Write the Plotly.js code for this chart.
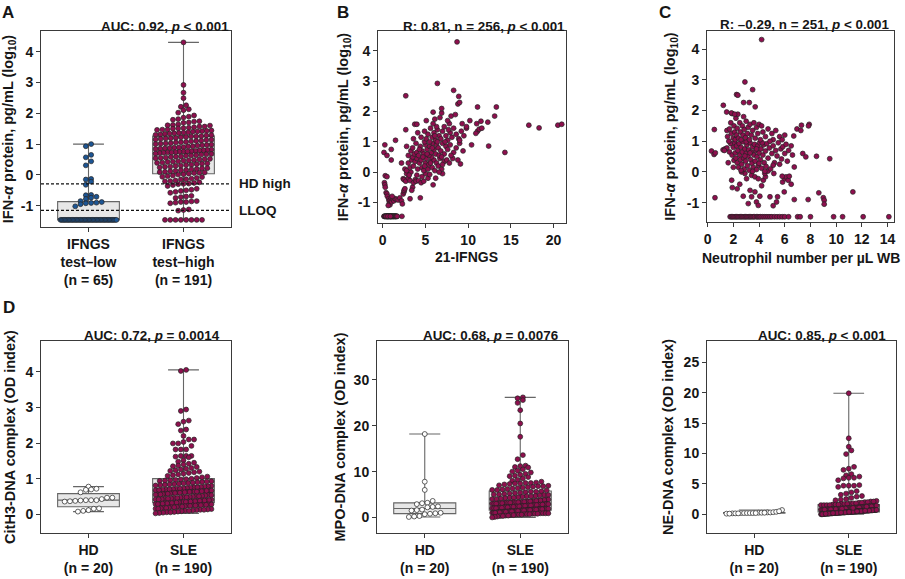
<!DOCTYPE html>
<html><head><meta charset="utf-8">
<script src="https://cdn.plot.ly/plotly-3.0.1.min.js"></script>
<style>html,body{margin:0;padding:0;background:#fff}#chart{width:905px;height:579px}</style>
</head><body><div id="chart"></div>
<script>
// ---------------- DATA ----------------
// Panel A: IFN-alpha protein (log10) by IFNGS test group
const aCatLabels = ['IFNGS<br>test–low<br>(n = 65)', 'IFNGS<br>test–high<br>(n = 191)'];
const aLow = [1.00,0.93,0.65,0.57,0.44,0.31,-0.13,-0.15,-0.22,-0.32,
  -0.65,-0.66,-0.71,-0.74,-0.78,-0.85,-0.88,-0.90,-0.91,-0.92,-0.95,-1.02,
  -1.46,-1.46,-1.46,-1.46,-1.46,-1.46,-1.46,-1.46,-1.46,-1.46,
  -1.46,-1.46,-1.46,-1.46,-1.46,-1.46,-1.46,-1.46,-1.46,-1.46,
  -1.46,-1.46,-1.46,-1.46,-1.46,-1.46,-1.46,-1.46,-1.46,-1.46,
  -1.46,-1.46,-1.46,-1.46,-1.46,-1.46,-1.46,-1.46,-1.46,-1.46,
  -1.46,-1.46,-1.46];
const aHigh = [4.30,2.92,2.67,2.49,2.26,2.21,2.13,2.10,2.02,1.93,1.89,1.86,1.81,
  1.79,1.74,1.73,1.70,1.69,1.64,1.62,1.61,1.60,1.57,1.57,1.55,1.53,1.52,1.51,1.50,1.47,1.47,1.46,1.44,
  1.43,1.42,1.41,1.40,1.38,1.37,1.36,1.35,1.34,1.33,1.31,1.30,1.29,1.28,
  1.26,1.25,1.25,1.23,1.22,1.20,1.19,1.18,1.17,1.15,1.14,1.13,1.11,1.10,1.09,1.07,1.06,1.05,1.03,1.02,
  1.01,1.00,0.98,0.97,0.96,0.95,0.93,0.92,0.90,0.89,0.88,0.87,0.86,0.85,0.84,0.82,0.81,0.80,0.79,0.78,
  0.77,0.76,0.76,0.75,0.74,0.73,0.73,0.72,
  0.71,0.69,0.68,0.67,0.66,0.64,0.63,0.62,0.60,0.59,0.58,0.56,0.55,0.54,0.52,0.51,0.50,0.48,0.47,0.46,
  0.44,0.43,0.42,0.40,0.39,0.37,0.36,0.35,0.33,0.32,0.30,0.29,0.27,0.26,0.24,0.22,0.21,0.19,0.18,0.16,
  0.15,0.13,0.12,0.10,0.09,0.08,0.07,0.06,
  0.04,0.02,0.01,-0.02,-0.04,-0.06,-0.07,-0.10,-0.12,-0.14,-0.15,-0.18,-0.20,-0.21,-0.24,-0.26,-0.28,-0.29,-0.30,-0.33,
  -0.36,-0.45,-0.48,-0.50,-0.52,-0.55,-0.58,-0.68,-0.70,-0.72,-0.75,-0.85,-0.86,-0.88,-0.88,-0.90,-0.92,
  -1.12,-1.14,-1.16,-1.46,-1.46,-1.46,-1.46,-1.46,-1.46,-1.46,-1.46];
const aRefValues = [-0.29, -1.15];
const aRefLabels = ['HD high', 'LLOQ'];
const aYTicks = [-1, 0, 1, 2, 3, 4];

// Panel B: IFN-alpha protein vs 21-IFNGS score
const bX = [0.15,0.2,0.25,0.3,0.35,0.4,0.45,0.5,0.5,0.55, 0.6,0.6,0.65,0.7,0.7,0.75,0.8,0.8,0.85,0.9,
  0.9,0.95,1.0,1.0,1.05,1.1,1.1,1.15,1.2,1.25, 1.3,1.3,1.35,1.4,1.45,1.5,1.5,1.55,1.6,1.65, 1.7,0.4,0.6,0.9,2.25,
  0.4,0.5,0.55,0.7,0.75,0.8,0.85,0.9,1.0,1.05, 1.2,1.3,1.4,1.6,1.8,2.0,2.2,2.3,2.4,2.5, 3.2,4.4,0.65,1.1,
  0.2,0.25,0.3,0.3,0.5,2.5,2.6,2.4,2.5,2.7, 2.8,3.0,3.2,3.3,3.5,3.6,3.8,3.9,4.0,4.2, 4.5,4.8,5.0,5.3,5.5,5.9,6.2,7.0,3.4,4.6,
  2.6,2.8,3.0,3.2,3.4,3.6,3.8,4.0,4.1,4.3, 4.5,4.6,4.8,5.0,5.1,5.3,5.4,5.6,5.8,6.0, 6.1,6.3,6.5,6.7,6.9,7.2,7.5,7.8,9.1,2.2, 3.5,4.9,5.7,6.6,8.2,1.0,7.0,
  0.15,0.25,0.5,1.0,3.0,3.3,3.5,3.7,3.9,4.0, 4.2,4.4,4.6,4.8,5.0,5.2,5.4,5.5,5.7,5.9, 6.0,6.2,6.3,6.5,6.6,6.8,7.0,7.2,7.4,7.6, 7.9,8.3,8.6,9.0,9.4,10.4,12.4,14.3,2.8,4.9, 6.9,8.0,
  3.6,4.1,4.5,4.9,5.1,5.3,5.6,5.8,6.0,6.2, 6.4,6.6,6.8,7.0,7.2,7.4,7.6,7.9,8.1,8.3, 8.6,8.9,9.2,9.5,9.8,11.1,11.3,11.6,10.9,5.5, 7.7,9.0,6.3,1.5,2.7,
  3.75,4.0,5.1,5.9,6.1,6.7,6.9,7.8,8.0,8.5, 9.3,10.2,11.0,11.5,12.3,13.1,13.3,11.1,8.8,6.9, 5.9,7.6,9.8,
  8.7,6.4,2.7,8.3,8.9,9.0,17.1,18.3,20.5,20.95, 5.2,5.6,6.4,4.3,7.3,3.1,4.7,5.8,6.1,8.8];
const bY = [-1.46,-1.46,-1.46,-1.46,-1.46,-1.46,-1.46,-1.46,-1.46,-1.46, -1.46,-1.46,-1.46,-1.46,-1.46,-1.46,-1.46,-1.46,-1.46,-1.46,
  -1.46,-1.46,-1.46,-1.46,-1.46,-1.46,-1.46,-1.46,-1.46,-1.46, -1.46,-1.46,-1.46,-1.46,-1.46,-1.46,-1.46,-1.46,-1.46,-1.46, -1.46,-1.46,-1.46,-1.46,-1.46,
  -0.68,-0.72,-0.8,-0.88,-0.95,-1.02,-1.08,-0.92,-0.85,-0.98, -0.9,-0.95,-0.87,-0.9,-0.92,-0.85,-0.95,-1.05,-0.72,-0.65, -0.88,-0.85,-1.1,-0.8,
  -0.35,-0.42,-0.5,-0.12,-0.15,-0.6,-0.55,-0.22,-0.25,-0.3, -0.05,-0.2,-0.28,0.0,-0.5,-0.35,-0.25,-0.3,-0.1,-0.28, -0.35,-0.3,-0.05,-0.2,-0.08,-0.42,-0.2,-0.05,-0.6,-0.15,
  0.1,0.05,0.3,0.15,0.4,0.2,0.35,0.45,0.1,0.3, 0.4,0.15,0.05,0.3,0.45,0.1,0.25,0.35,0.15,0.4, 0.05,0.3,0.2,0.45,0.1,0.35,0.4,0.3,0.27,0.3, 0.5,0.2,0.5,0.0,0.45,0.4,0.25,
  0.65,0.9,0.55,0.75,0.55,0.7,0.8,0.6,0.95,0.65, 0.55,0.85,0.7,0.6,0.9,0.75,0.55,0.85,0.65,0.95, 0.75,0.6,0.9,0.8,0.55,0.7,0.95,0.6,0.85,0.75, 0.9,0.65,0.8,0.95,0.7,0.9,0.86,0.65,0.85,1.0, 0.5,0.55,
  1.1,1.3,1.15,1.35,1.1,1.25,1.45,1.15,1.3,1.05, 1.4,1.2,1.1,1.35,1.5,1.2,1.05,1.3,1.15,1.45, 1.25,1.1,1.35,1.2,1.45,1.35,1.42,1.45,1.28,1.0, 1.4,1.05,1.5,1.05,1.4,
  1.58,1.58,1.7,1.6,1.75,1.8,1.95,1.6,1.85,1.9, 1.6,1.7,1.6,1.68,1.65,1.85,2.15,2.15,2.25,2.1, 1.98,1.7,1.5,
  4.3,2.93,2.52,2.7,2.5,2.3,1.55,1.46,1.55,1.58, 0.6,0.3,1.0,0.75,1.0,-0.1,0.5,0.8,1.2,0.4];
const bXTicks = [0, 5, 10, 15, 20];

// Panel C: IFN-alpha protein vs neutrophil count
const cX = [1.75,1.85,1.95,2.05,2.15,2.25,2.35,2.45,2.55,2.65, 2.75,2.85,2.95,3.05,3.15,3.25,3.35,3.45,3.55,3.65,
  3.8,3.9,4.0,4.1,4.25,4.4,4.55,4.7,4.85,5.0, 5.2,5.4,5.6,5.8,6.0,6.3,7.0,7.2,8.0,9.8, 10.5,12.1,14.1,
  0.57,1.87,1.92,2.5,2.77,3.16,3.42,3.8,4.06,3.68, 3.94,4.33,4.5,4.85,5.1,5.36,5.44,5.96,5.83,6.0,
  6.1,6.27,6.5,6.74,7.82,8.65,9.0,9.07,9.07,11.3, 3.42,3.68,3.94,4.45,2.9,2.64,5.15,5.8,6.35,3.03, 4.7,3.3,4.2,2.3,
  1.2,1.35,1.5,0.3,0.5,1.7,1.8,1.9,2.0,2.05, 2.1,2.15,2.2,2.25,2.3,2.35,2.4,2.45,2.5,2.55,
  2.6,2.65,2.7,2.75,2.8,2.85,2.9,2.95,3.0,3.05, 3.1,3.15,3.2,3.25,3.3,3.35,3.4,3.45,3.5,3.55,
  3.6,3.65,3.7,3.75,3.8,3.85,3.9,3.95,4.0,4.05, 4.1,4.15,4.2,4.3,4.35,4.4,4.5,4.55,4.6,4.7,
  4.8,4.9,5.0,5.1,5.2,5.3,5.4,5.5,5.6,5.7, 5.75,5.85,6.0,6.1,6.2,6.3,6.5,6.74,6.6,7.4,
  7.64,8.47,9.5,2.0,2.6,3.0,3.5,4.0,4.45,1.6, 2.9,3.3,3.8,4.25,5.1,0.6,1.3,
  0.52,1.5,1.55,1.65,1.7,1.8,1.85,1.9,2.0,2.05, 2.1,2.15,2.2,2.25,2.3,2.35,2.4,2.5,2.55,2.6,
  2.7,2.75,2.8,2.85,2.95,3.0,3.1,3.15,3.25,3.3, 3.4,3.5,3.6,3.7,3.8,3.9,4.0,4.1,4.2,4.3,
  4.5,4.7,5.0,5.1,5.3,5.6,5.8,6.0,6.7,6.95, 7.25,7.3,7.9,7.85,4.85,
  4.2,2.9,3.5,2.25,2.35,1.22,3.24,2.8,3.7,1.48, 1.85,2.1];
const cY = [-1.46,-1.46,-1.46,-1.46,-1.46,-1.46,-1.46,-1.46,-1.46,-1.46, -1.46,-1.46,-1.46,-1.46,-1.46,-1.46,-1.46,-1.46,-1.46,-1.46,
  -1.46,-1.46,-1.46,-1.46,-1.46,-1.46,-1.46,-1.46,-1.46,-1.46, -1.46,-1.46,-1.46,-1.46,-1.46,-1.46,-1.46,-1.46,-1.46,-1.46, -1.46,-1.46,-1.46,
  -0.84,-0.27,-0.51,-0.4,-0.79,-1.03,-0.81,-0.98,-0.79,-0.65, -1.09,-0.27,-0.16,-0.81,-1.1,-0.98,-0.81,-0.65,-0.33,-0.22,
  -0.16,-0.27,-0.4,-0.9,-0.9,-0.68,-0.84,-0.92,-1.05,-0.65, -0.11,-0.16,-0.22,-0.05,-0.05,0.0,-0.05,-0.14,-0.14,-0.22, 0.03,-0.6,-0.45,-0.55,
  0.72,0.75,0.78,0.68,0.57,0.65,0.92,0.55,0.8,0.38, 0.95,0.62,0.45,0.85,0.3,0.7,0.15,0.92,0.55,0.4,
  0.8,0.25,0.65,0.98,0.45,0.1,0.75,0.35,0.6,0.88, 0.2,0.5,0.72,0.05,0.95,0.4,0.65,0.28,0.82,0.15,
  0.55,0.9,0.35,0.7,0.08,0.5,0.85,0.22,0.62,0.95, 0.4,0.75,0.12,0.55,0.88,0.3,0.68,0.18,0.92,0.45,
  0.78,0.1,0.6,0.85,0.3,0.7,0.52,0.95,0.25,0.75, 0.42,0.82,0.6,0.9,0.35,0.7,0.85,0.16,0.55,0.6,
  0.49,0.51,0.43,0.15,0.05,0.98,0.02,0.28,0.02,0.3, 0.52,0.62,0.75,0.95,0.22,0.62,0.7,
  1.38,1.35,1.15,1.0,1.4,1.6,1.25,1.9,1.1,1.5, 1.3,1.05,1.75,1.2,1.42,1.88,1.1,1.6,1.3,1.05,
  1.5,1.2,1.8,1.38,1.12,1.65,1.25,1.45,1.05,1.55, 1.2,1.35,1.6,1.1,1.45,1.25,1.55,1.05,1.5,1.3,
  1.15,1.4,1.25,1.05,1.35,1.15,1.05,1.2,1.17,1.4, 1.35,1.52,1.55,1.5,1.0,
  4.31,2.93,2.68,2.52,2.5,2.17,2.26,2.26,2.12,1.95, 1.92,1.88];
const cXTicks = [0, 2, 4, 6, 8, 10, 12, 14];

// Panel D: NET remnants (OD index), HD vs SLE
const dCatLabels = ['HD<br>(n = 20)', 'SLE<br>(n = 190)'];
const citH3HD = [0.78,0.72,0.70,0.69,0.62,0.47,0.40,0.43,0.40,0.40,0.47,0.36,0.39,0.38,0.37,0.10,0.17,0.12,0.16,0.08];
const citH3SLE = [4.05,4.02,2.94,2.90,2.63,2.60,2.53,2.38,2.35,2.20,2.10,2.10,2.03,1.99,1.99,1.92,1.82,1.82,1.82,1.64,1.64,1.64,1.62,1.60,
  1.52,1.48,1.45,1.42,1.40,1.37,1.35,1.33,1.30,1.28,1.26,1.24,1.22,1.20,1.18,1.16,1.14,1.12,1.10,1.08,1.06,1.04,1.02,
  1.00,0.99,0.98,0.97,0.96,0.95,0.94,0.93,0.92,0.91,0.90,0.89,0.88,0.87,0.86,0.85,0.84,0.83,0.82,0.81,
  0.80,0.79,0.78,0.77,0.76,0.76,0.75,0.74,0.73,0.72,0.72,0.71,0.70,0.70,0.69,0.68,0.68,0.67,0.67,0.66,
  0.66,0.65,0.65,0.64,0.64,0.64,0.63,0.63,
  0.62,0.62,0.61,0.61,0.60,0.60,0.59,0.58,0.58,0.57,0.56,0.56,0.55,0.54,0.54,0.53,0.52,0.51,0.51,0.50,
  0.49,0.48,0.48,0.47,0.46,0.46,0.45,0.44,0.44,0.43,0.42,0.42,0.41,0.40,0.40,0.39,0.39,0.38,0.38,0.37,
  0.37,0.36,0.36,0.35,0.35,0.35,0.34,
  0.33,0.33,0.32,0.32,0.31,0.31,0.30,0.30,0.29,0.29,0.28,0.28,0.27,0.27,0.26,0.26,0.25,0.25,0.24,0.24,
  0.23,0.22,0.22,0.21,0.20,0.20,0.19,0.18,0.18,0.17,0.16,0.16,0.15,0.14,0.13,0.13,0.12,0.11,0.10,0.10,
  0.09,0.08,0.07,0.06,0.06,0.05,0.04,0.03];
const mpoHD = [18.2,7.8,6.0,3.6,3.2,3.1,2.9,2.4,2.3,2.2,1.7,1.6,1.5,1.0,0.9,0.8,0.7,0.3,0.2,0.1];
const mpoSLE = [26.2,26.0,25.6,25.0,23.4,20.5,17.6,13.6,12.7,
  11.3,11.2,11.0,10.9,10.5,10.2,10.0,9.8,9.5,9.3,9.1,9.0,
  8.8,8.5,8.2,8.0,7.8,7.6,7.5,7.5,7.4,7.4,7.3,7.2,7.0,6.9,6.8,6.8,6.7,6.6,6.5,6.4,6.3,6.2,6.1,6.0,6.0,5.9,
  5.7,5.6,5.6,5.5,5.4,5.3,5.2,5.1,5.0,5.0,4.9,4.9,4.8,4.7,4.6,4.6,4.5,4.4,4.3,4.3,
  4.2,4.1,4.0,4.0,3.9,3.9,3.8,3.8,3.7,3.7,3.6,3.6,3.6,3.5,3.5,3.5,3.4,3.4,3.4,3.3,
  3.3,3.3,3.3,3.2,3.2,3.2,3.2,
  3.1,3.1,3.1,3.0,3.0,3.0,2.9,2.9,2.9,2.8,2.8,2.8,2.7,2.7,2.7,2.6,2.6,2.6,2.5,2.5,
  2.5,2.4,2.4,2.4,2.3,2.3,2.3,2.2,2.2,2.2,2.1,2.1,2.1,2.0,2.0,2.0,1.9,1.9,1.9,1.9,
  1.8,1.8,1.8,1.8,1.7,1.7,1.7,1.7,
  1.6,1.6,1.6,1.6,1.5,1.5,1.5,1.5,1.4,1.4,1.4,1.4,1.3,1.3,1.3,1.3,1.2,1.2,1.2,1.2,
  1.1,1.1,1.1,1.0,1.0,1.0,0.9,0.9,0.9,0.9,0.8,0.8,0.8,0.7,0.7,0.7,0.6,0.6,0.6,0.5,
  0.5,0.4,0.4,0.3,0.3,0.2,0.1,0.0];
const neHD = [0.10,0.15,0.20,0.25,0.20,0.15,0.30,0.20,0.10,0.25,0.20,0.30,0.15,0.20,0.25,0.35,0.40,0.70,0.50,0.20];
const neSLE = [19.9,12.5,11.1,10.5,9.9,7.8,7.5,7.3,6.6,6.4,6.2,6.0,6.0,5.9,5.6,4.8,4.7,4.7,4.7,4.5,
  3.8,3.6,3.4,3.2,3.0,2.9,2.7,2.5,2.4,2.3,
  2.2,2.1,2.1,2.0,2.0,1.9,1.9,1.8,1.8,1.8, 1.7,1.7,1.7,1.6,1.6,1.6,1.5,1.5,1.5,1.5,
  1.4,1.4,1.4,1.4,1.3,1.3,1.3,1.3,1.2,1.2, 1.2,1.2,1.2,1.1,1.1,1.1,1.1,1.1,1.0,1.0,
  1.0,1.0,1.0,0.95,0.95,0.95,0.9,0.9,0.9,0.9, 0.85,0.85,0.85,0.85,0.8,0.8,0.8,0.8,0.8,0.75,
  0.75,0.75,0.75,0.7,0.7,0.7,0.7,0.7,0.65,0.65, 0.65,0.65,0.65,0.6,0.6,0.6,0.6,0.6,0.6,0.55,
  0.55,0.55,0.55,0.55,0.5,0.5,0.5,0.5,0.5,0.5, 0.45,0.45,0.45,0.45,0.45,0.4,0.4,0.4,0.4,0.4,
  0.4,0.35,0.35,0.35,0.35,0.35,0.3,0.3,0.3,0.3, 0.3,0.3,0.25,0.25,0.25,0.25,0.25,0.2,0.2,0.2,
  0.2,0.2,0.2,0.15,0.15,0.15,0.15,0.15,0.1,0.1, 0.1,0.1,0.1,0.05,0.05,0.05,0.05,0.0,0.0,0.0,
  1.25,1.05,0.92,0.72,0.58,0.48,0.38,0.28,0.18,0.08];
const d1YTicks = [0, 1, 2, 3, 4];
const d2YTicks = [0, 10, 20, 30];
const d3YTicks = [0, 5, 10, 15, 20, 25];

// ---------------- STYLE / LAYOUT ----------------
const W = 905, H = 579;
const FONT = 'Liberation Sans, Arial, Helvetica, sans-serif';
const TXT = '#161616';
const AXC = '#3a3a3a';
const FS_TICK = 14, FS_TITLE = 13.4, FS_YT = 14.5, FS_XT = 14, FS_LET = 17;
const CRIMSON = '#8e0f4e', BLUE = '#1c5594', WHITE = '#ffffff', OUTL = '#222222';
const BOXFILL = '#e7e7e7', BOXLINE = '#666666';
const DIAM = 4.9;

// frames in pixels [left, right, top, bottom]
const P = {
  A: [41, 231, 31, 227], B: [378, 566, 31, 223], C: [707, 894, 31, 222],
  D1: [41, 231, 341, 533], D2: [377, 568, 341, 533], D3: [707, 896, 341, 533]
};
const R = {
  A: [-1.69, 4.67], B: [-1.68, 4.66], C: [-1.63, 4.59],
  D1: [-0.52, 4.86], D2: [-3.4, 38.5], D3: [-3.08, 28.5]
};
const CATRANGE = [-0.5, 1.5];

const xd = p => [p[0] / W, p[1] / W];
const yd = p => [1 - p[3] / H, 1 - p[2] / H];
const bold = size => ({family: FONT, size: size, color: TXT, weight: 'bold'});
function axis(extra) {
  return Object.assign({
    showline: true, mirror: true, linecolor: AXC, linewidth: 1,
    ticks: 'outside', ticklen: 4, tickwidth: 1, tickcolor: AXC,
    showgrid: false, zeroline: false, fixedrange: true, automargin: false,
    tickfont: bold(FS_TICK)
  }, extra);
}

function quant(sorted, p) {
  const n = sorted.length; const pos = p * (n + 1);
  if (pos <= 1) return sorted[0];
  if (pos >= n) return sorted[n - 1];
  const lo = Math.floor(pos), f = pos - lo;
  return sorted[lo - 1] + f * (sorted[lo] - sorted[lo - 1]);
}

// GraphPad-like row swarm: offsets computed from the data through the pixel scale
function swarm(vals, center, yr, frame) {
  const hPx = frame[3] - frame[2], wPx = frame[1] - frame[0];
  const ppuY = hPx / (yr[1] - yr[0]);
  const ppuX = wPx / (CATRANGE[1] - CATRANGE[0]);
  const maxHalf = 0.325 * ppuX - DIAM / 2 - 0.5;
  const idx = vals.map((v, i) => i).sort((a, b) => vals[a] - vals[b]);
  const xs = new Array(vals.length);
  let row = [], startPy = 0;
  const flush = () => {
    const k = row.length; if (!k) return;
    let sp = DIAM * 1.08;
    if (k > 1 && sp * (k - 1) > 2 * maxHalf) sp = 2 * maxHalf / (k - 1);
    row.forEach((i, j) => { xs[i] = center + ((j - (k - 1) / 2) * sp) / ppuX; });
    row = [];
  };
  idx.forEach(i => {
    const py = vals[i] * ppuY;
    if (row.length && py - startPy >= DIAM * 0.92) flush();
    if (!row.length) startPy = py;
    row.push(i);
  });
  flush();
  return xs;
}

const traces = [];
function addGroup(vals, center, key, ax, fill) {
  const s = vals.slice().sort((a, b) => a - b);
  traces.push({
    type: 'box', x: [center], q1: [quant(s, 0.25)], median: [quant(s, 0.5)], q3: [quant(s, 0.75)],
    lowerfence: [s[0]], upperfence: [s[s.length - 1]], width: 0.65, whiskerwidth: 0.5,
    fillcolor: BOXFILL, line: {color: BOXLINE, width: 1.1}, boxpoints: false,
    xaxis: 'x' + ax, yaxis: 'y' + ax, hoverinfo: 'skip', showlegend: false
  });
  return {vals, center, key, ax, fill};
}
function addPoints(g) {
  traces.push({
    type: 'scatter', mode: 'markers', x: swarm(g.vals, g.center, R[g.key], P[g.key]), y: g.vals,
    marker: {size: DIAM, color: g.fill, line: {color: OUTL, width: 0.7}},
    xaxis: 'x' + g.ax, yaxis: 'y' + g.ax, hoverinfo: 'skip', showlegend: false, cliponaxis: false
  });
}

const groups = [
  addGroup(aLow, 0, 'A', '', BLUE), addGroup(aHigh, 1, 'A', '', CRIMSON),
  addGroup(citH3HD, 0, 'D1', '4', WHITE), addGroup(citH3SLE, 1, 'D1', '4', CRIMSON),
  addGroup(mpoHD, 0, 'D2', '5', WHITE), addGroup(mpoSLE, 1, 'D2', '5', CRIMSON),
  addGroup(neHD, 0, 'D3', '6', WHITE), addGroup(neSLE, 1, 'D3', '6', CRIMSON)
];
groups.forEach(addPoints);

traces.push({type: 'scatter', mode: 'markers', x: bX, y: bY, xaxis: 'x2', yaxis: 'y2',
  marker: {size: DIAM, color: CRIMSON, line: {color: OUTL, width: 0.7}}, hoverinfo: 'skip', showlegend: false});
traces.push({type: 'scatter', mode: 'markers', x: cX, y: cY, xaxis: 'x3', yaxis: 'y3',
  marker: {size: DIAM, color: CRIMSON, line: {color: OUTL, width: 0.7}}, hoverinfo: 'skip', showlegend: false});

// y-axis titles and the x position (px) where their centre sits in the reference
const ifnTitle = 'IFN-<i>α</i> protein, pg/mL (log<sub>10</sub>)';
const yTitles = {
  yaxis: [ifnTitle, 10], yaxis2: [ifnTitle, 344], yaxis3: [ifnTitle, 671],
  yaxis4: ['CitH3-DNA complex (OD index)', 10], yaxis5: ['MPO-DNA complex (OD index)', 340],
  yaxis6: ['NE-DNA complex (OD index)', 668]
};
const STANDOFF0 = 8;
const yt = k => ({text: yTitles[k][0], font: bold(FS_YT), standoff: STANDOFF0});

const layout = {
  width: W, height: H, margin: {l: 0, r: 0, t: 0, b: 0},
  paper_bgcolor: '#fff', plot_bgcolor: '#fff', showlegend: false,
  font: {family: FONT, color: TXT},
  xaxis: axis({domain: xd(P.A), range: CATRANGE, anchor: 'y', tickvals: [0, 1], ticktext: aCatLabels}),
  yaxis: axis({domain: yd(P.A), range: R.A, anchor: 'x', tickvals: aYTicks, ticktext: aYTicks.map(String), title: yt('yaxis')}),
  xaxis2: axis({domain: xd(P.B), range: [-0.55, 21.45], anchor: 'y2', tickvals: bXTicks, ticktext: bXTicks.map(String)}),
  yaxis2: axis({domain: yd(P.B), range: R.B, anchor: 'x2', tickvals: aYTicks, ticktext: aYTicks.map(String), title: yt('yaxis2')}),
  xaxis3: axis({domain: xd(P.C), range: [-0.05, 14.5], anchor: 'y3', tickvals: cXTicks, ticktext: cXTicks.map(String)}),
  yaxis3: axis({domain: yd(P.C), range: R.C, anchor: 'x3', tickvals: aYTicks, ticktext: aYTicks.map(String), title: yt('yaxis3')}),
  xaxis4: axis({domain: xd(P.D1), range: CATRANGE, anchor: 'y4', tickvals: [0, 1], ticktext: dCatLabels}),
  yaxis4: axis({domain: yd(P.D1), range: R.D1, anchor: 'x4', tickvals: d1YTicks, ticktext: d1YTicks.map(String), title: yt('yaxis4')}),
  xaxis5: axis({domain: xd(P.D2), range: CATRANGE, anchor: 'y5', tickvals: [0, 1], ticktext: dCatLabels}),
  yaxis5: axis({domain: yd(P.D2), range: R.D2, anchor: 'x5', tickvals: d2YTicks, ticktext: d2YTicks.map(String), title: yt('yaxis5')}),
  xaxis6: axis({domain: xd(P.D3), range: CATRANGE, anchor: 'y6', tickvals: [0, 1], ticktext: dCatLabels}),
  yaxis6: axis({domain: yd(P.D3), range: R.D3, anchor: 'x6', tickvals: d3YTicks, ticktext: d3YTicks.map(String), title: yt('yaxis6')}),
  shapes: aRefValues.map(v => ({type: 'line', xref: 'x domain', yref: 'y', x0: 0, x1: 1, y0: v, y1: v,
    line: {color: '#111', width: 1.3, dash: '3px,2px'}, layer: 'above'})),
  annotations: []
};

const ann = layout.annotations;
function txt(text, xpx, ypx, size, opts) {
  ann.push(Object.assign({text, x: xpx / W, y: 1 - ypx / H, xref: 'paper', yref: 'paper',
    xanchor: 'center', yanchor: 'middle', showarrow: false, font: bold(size)}, opts || {}));
}
// panel letters
txt('A', 8, 12.5, FS_LET);
txt('B', 342.5, 12.5, FS_LET);
txt('C', 665, 12.5, FS_LET);
txt('D', 9, 307.5, FS_LET);
// panel titles
txt('AUC: 0.92, <i>p</i> &lt; 0.001', 231, 27, FS_TITLE, {xanchor: 'right'});
txt('R: 0.81, n = 256, <i>p</i> &lt; 0.001', 567, 27, FS_TITLE, {xanchor: 'right'});
txt('R: –0.29, n = 251, <i>p</i> &lt; 0.001', 892, 24, FS_TITLE, {xanchor: 'right'});
txt('AUC: 0.72, <i>p</i> = 0.0014', 222, 335, FS_TITLE, {xanchor: 'right'});
txt('AUC: 0.68, <i>p</i> = 0.0076', 560, 335, FS_TITLE, {xanchor: 'right'});
txt('AUC: 0.85, <i>p</i> &lt; 0.001', 888, 335, FS_TITLE, {xanchor: 'right'});
// x titles
txt('21-IFNGS', 467, 257, FS_XT);
txt('Neutrophil number per µL WB', 801, 258, FS_XT);
// reference line labels
aRefValues.forEach((v, i) => ann.push({text: aRefLabels[i], x: 237 / W, xref: 'paper', y: v, yref: 'y',
  xanchor: 'left', yanchor: 'middle', showarrow: false, font: bold(13.5)}));

Plotly.newPlot('chart', traces, layout, {staticPlot: true, displayModeBar: false}).then(gd => {
  // nudge each y title so that its centre lands where the reference has it
  const upd = {};
  const root = gd.getBoundingClientRect();
  Object.keys(yTitles).forEach(k => {
    const id = k.replace('axis', '');
    const el = gd.querySelector('text.' + id + 'title');
    if (!el) return;
    const r = el.getBoundingClientRect();
    const cx = r.left - root.left + r.width / 2;
    upd[k + '.title.standoff'] = STANDOFF0 + (cx - yTitles[k][1]);
  });
  if (Object.keys(upd).length) return Plotly.relayout(gd, upd);
});
</script></body></html>
